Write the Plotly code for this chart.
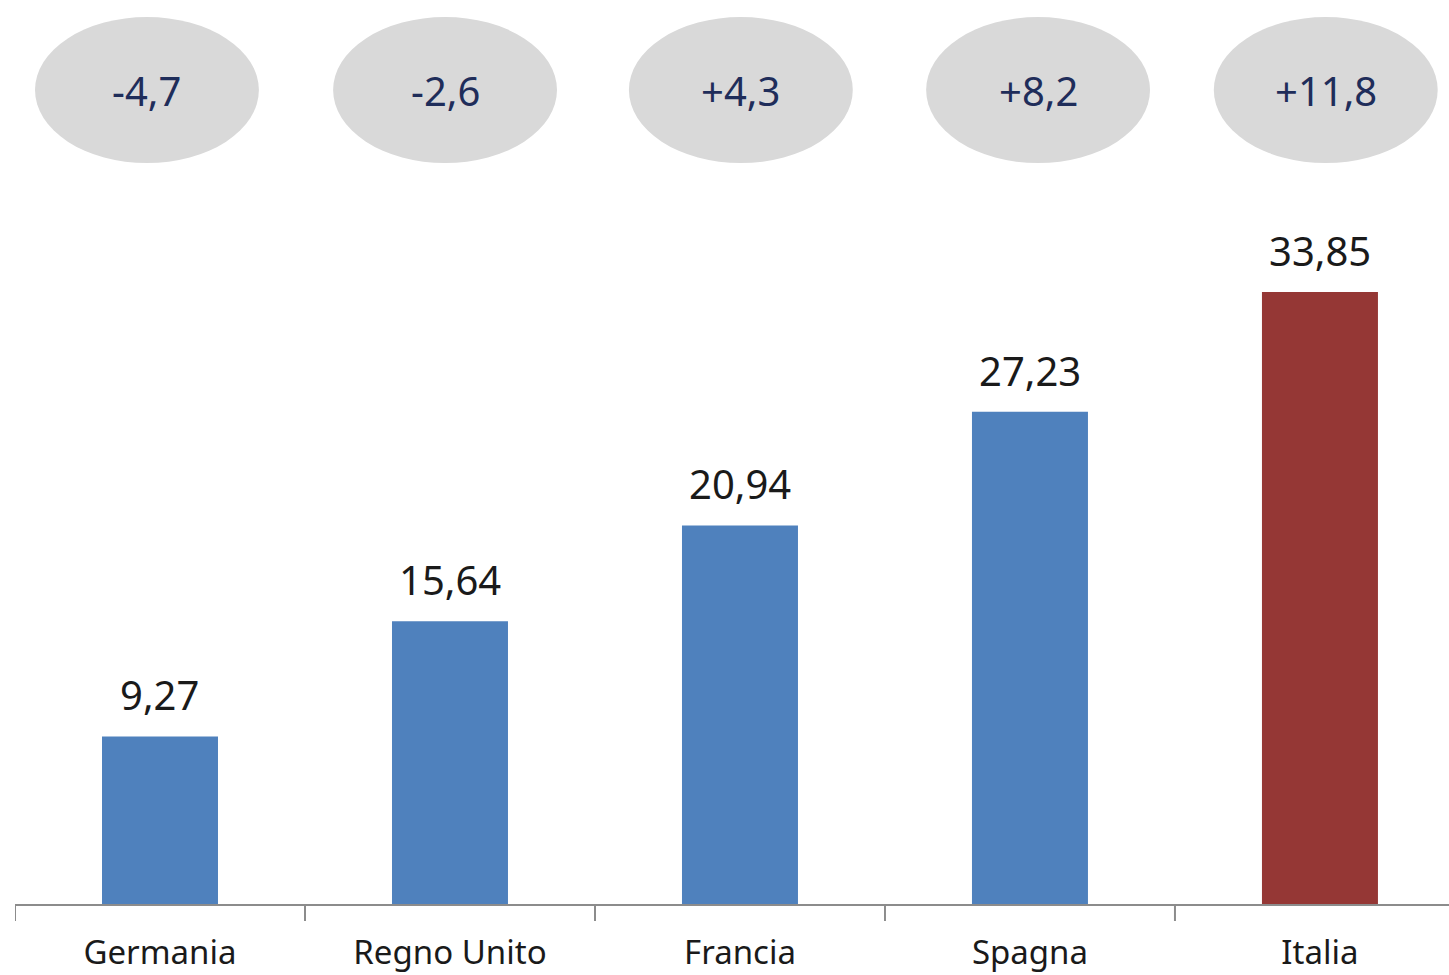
import plotly.graph_objects as go

categories = ["Germania", "Regno Unito", "Francia", "Spagna", "Italia"]
values = [9.27, 15.64, 20.94, 27.23, 33.85]
changes = ["-4,7", "-2,6", "+4,3", "+8,2", "+11,8"]
bar_colors = ["#4F81BD", "#4F81BD", "#4F81BD", "#4F81BD", "#953735"]

def fmt(v):
    return f"{v:.2f}".replace(".", ",")

fig = go.Figure()
fig.add_trace(go.Bar(
    x=list(range(len(categories))),
    y=values,
    width=0.4,
    marker=dict(color=bar_colors, line=dict(width=0)),
    hoverinfo="skip",
))

# value labels
for i, v in enumerate(values):
    fig.add_annotation(
        x=i, y=v, text=fmt(v), showarrow=False,
        yanchor="bottom", yshift=12,
        font=dict(family="Noto Sans", size=40, color="#1a1a1a"),
    )

# ellipses with change values
dx = [-0.045, -0.017, 0.003, 0.028, 0.02]
for i, c in enumerate(changes):
    cx = i + dx[i]
    fig.add_shape(
        type="circle", xref="x", yref="y",
        x0=cx - 0.386, x1=cx + 0.386, y0=40.98, y1=49.06,
        fillcolor="#D9D9D9", line=dict(width=0), layer="below",
    )
    fig.add_annotation(
        x=cx, y=45.0, text=c, showarrow=False,
        font=dict(family="Noto Sans", size=40, color="#1F2D5A"),
    )

fig.update_layout(
    width=1449, height=975,
    margin=dict(l=15, r=0, t=0, b=71),
    paper_bgcolor="white", plot_bgcolor="white",
    showlegend=False,
)
fig.update_xaxes(
    range=[-0.5, 4.445],
    tickmode="array",
    tickvals=list(range(len(categories))),
    ticktext=categories,
    showgrid=False, zeroline=False,
    showline=True, linecolor="#8C8C8C", linewidth=2,
    ticks="",
    ticklabelstandoff=18,
    tickfont=dict(family="Noto Sans", size=33, color="#1a1a1a"),
    fixedrange=True,
)
# category boundary ticks
for b in [-0.5, 0.5, 1.5, 2.5, 3.5]:
    fig.add_shape(
        type="line", xref="x", yref="paper",
        x0=b, x1=b, y0=0, y1=-17 / 904,
        line=dict(color="#8C8C8C", width=2),
    )
fig.update_yaxes(
    range=[0, 50],
    visible=False,
    fixedrange=True,
)

fig.write_html("out.html")
